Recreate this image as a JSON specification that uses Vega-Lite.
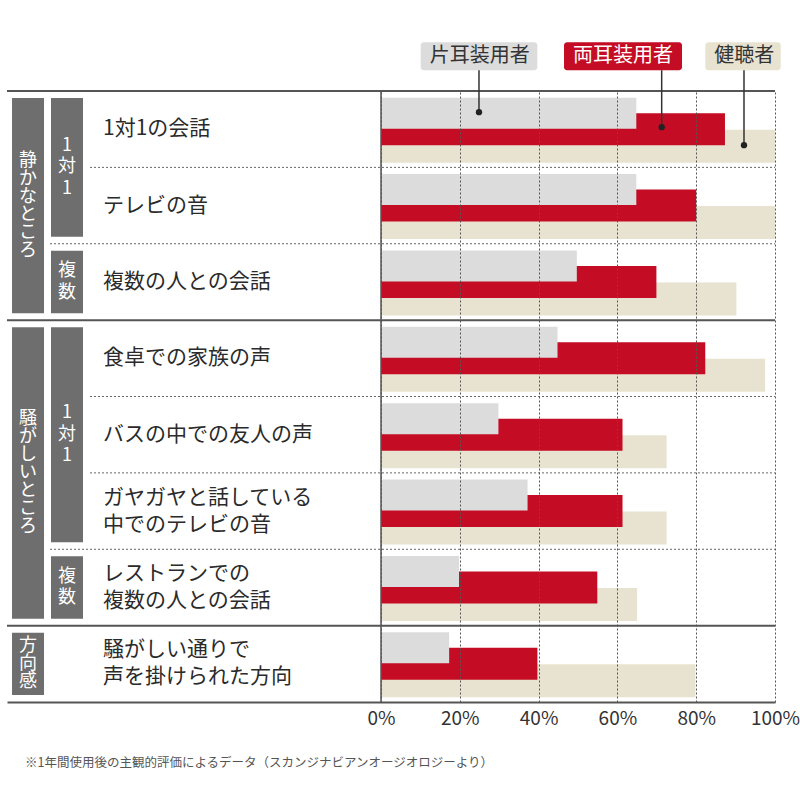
{
  "$schema": "https://vega.github.io/schema/vega-lite/v6.json",
  "width": 768,
  "height": 611,
  "autosize": "none",
  "padding": {"left": 7, "top": 91, "right": 25, "bottom": 98},
  "background": "#ffffff",
  "config": {
    "view": {"stroke": null},
    "font": "Noto Sans CJK JP"
  },
  "title": {
    "text": "※1年間使用後の主観的評価によるデータ（スカンジナビアンオージオロジーより）",
    "orient": "bottom",
    "anchor": "start",
    "frame": "group",
    "dx": 18,
    "offset": 29,
    "fontSize": 12.5,
    "fontWeight": "normal",
    "color": "#555555"
  },
  "datasets": {
    "rows": [
      {"item": "1対1の会話", "group": "静かなところ", "sub": "1対1", "top": "group"},
      {"item": "テレビの音", "group": "静かなところ", "sub": "1対1", "top": "row"},
      {"item": "複数の人との会話", "group": "静かなところ", "sub": "複数", "top": "sub"},
      {"item": "食卓での家族の声", "group": "騒がしいところ", "sub": "1対1", "top": "group"},
      {"item": "バスの中での友人の声", "group": "騒がしいところ", "sub": "1対1", "top": "row"},
      {"item": "ガヤガヤと話している\n中でのテレビの音", "group": "騒がしいところ", "sub": "1対1", "top": "row"},
      {"item": "レストランでの\n複数の人との会話", "group": "騒がしいところ", "sub": "複数", "top": "sub"},
      {"item": "騒がしい通りで\n声を掛けられた方向", "group": "方向感", "sub": null, "top": "group"}
    ],
    "scores": [
      {"item": "1対1の会話", "series": "片耳装用者", "value": 0.648},
      {"item": "1対1の会話", "series": "両耳装用者", "value": 0.873},
      {"item": "1対1の会話", "series": "健聴者", "value": 1.0},
      {"item": "テレビの音", "series": "片耳装用者", "value": 0.648},
      {"item": "テレビの音", "series": "両耳装用者", "value": 0.8},
      {"item": "テレビの音", "series": "健聴者", "value": 1.0},
      {"item": "複数の人との会話", "series": "片耳装用者", "value": 0.497},
      {"item": "複数の人との会話", "series": "両耳装用者", "value": 0.699},
      {"item": "複数の人との会話", "series": "健聴者", "value": 0.902},
      {"item": "食卓での家族の声", "series": "片耳装用者", "value": 0.448},
      {"item": "食卓での家族の声", "series": "両耳装用者", "value": 0.823},
      {"item": "食卓での家族の声", "series": "健聴者", "value": 0.975},
      {"item": "バスの中での友人の声", "series": "片耳装用者", "value": 0.298},
      {"item": "バスの中での友人の声", "series": "両耳装用者", "value": 0.613},
      {"item": "バスの中での友人の声", "series": "健聴者", "value": 0.725},
      {"item": "ガヤガヤと話している\n中でのテレビの音", "series": "片耳装用者", "value": 0.372},
      {"item": "ガヤガヤと話している\n中でのテレビの音", "series": "両耳装用者", "value": 0.613},
      {"item": "ガヤガヤと話している\n中でのテレビの音", "series": "健聴者", "value": 0.725},
      {"item": "レストランでの\n複数の人との会話", "series": "片耳装用者", "value": 0.198},
      {"item": "レストランでの\n複数の人との会話", "series": "両耳装用者", "value": 0.549},
      {"item": "レストランでの\n複数の人との会話", "series": "健聴者", "value": 0.65},
      {"item": "騒がしい通りで\n声を掛けられた方向", "series": "片耳装用者", "value": 0.173},
      {"item": "騒がしい通りで\n声を掛けられた方向", "series": "両耳装用者", "value": 0.397},
      {"item": "騒がしい通りで\n声を掛けられた方向", "series": "健聴者", "value": 0.798}
    ],
    "blocks": [
      {"label": "静かなところ", "level": "group", "from": "1対1の会話", "to": "複数の人との会話"},
      {"label": "騒がしいところ", "level": "group", "from": "食卓での家族の声", "to": "レストランでの\n複数の人との会話"},
      {"label": "方向感", "level": "group", "from": "騒がしい通りで\n声を掛けられた方向", "to": "騒がしい通りで\n声を掛けられた方向"},
      {"label": "1対1", "level": "sub", "from": "1対1の会話", "to": "テレビの音"},
      {"label": "複数", "level": "sub", "from": "複数の人との会話", "to": "複数の人との会話"},
      {"label": "1対1", "level": "sub", "from": "食卓での家族の声", "to": "ガヤガヤと話している\n中でのテレビの音"},
      {"label": "複数", "level": "sub", "from": "レストランでの\n複数の人との会話", "to": "レストランでの\n複数の人との会話"}
    ],
    "callouts": [
      {"series": "片耳装用者", "box": 0.1008, "box_end": 0.3967, "pin": 0.2487},
      {"series": "両耳装用者", "box": 0.4645, "box_end": 0.764, "pin": 0.7124},
      {"series": "健聴者", "box": 0.8231, "box_end": 1.0145, "pin": 0.9213}
    ]
  },
  "resolve": {"scale": {"y": "independent"}},
  "layer": [
    {
      "layer": [
        {
          "data": {"name": "rows"},
          "transform": [{"filter": "datum.top === 'group'"}],
          "mark": {"type": "rule", "color": "#555555", "strokeWidth": 2},
          "encoding": {
            "y": {
              "field": "item",
              "type": "nominal",
              "bandPosition": 0,
              "scale": {
                "domain": [
                  "1対1の会話",
                  "テレビの音",
                  "複数の人との会話",
                  "食卓での家族の声",
                  "バスの中での友人の声",
                  "ガヤガヤと話している\n中でのテレビの音",
                  "レストランでの\n複数の人との会話",
                  "騒がしい通りで\n声を掛けられた方向"
                ],
                "paddingInner": 0,
                "paddingOuter": 0
              },
              "axis": null
            }
          }
        },
        {
          "data": {"name": "rows"},
          "transform": [{"filter": "datum.top === 'row'"}],
          "mark": {"type": "rule", "color": "#666666", "strokeWidth": 1, "strokeDash": [2, 2]},
          "encoding": {
            "y": {"field": "item", "type": "nominal", "bandPosition": 0},
            "x": {"datum": -0.7386},
            "x2": {"datum": 1}
          }
        },
        {
          "data": {"name": "rows"},
          "transform": [{"filter": "datum.top === 'sub'"}],
          "mark": {"type": "rule", "color": "#666666", "strokeWidth": 1, "strokeDash": [2, 2]},
          "encoding": {
            "y": {"field": "item", "type": "nominal", "bandPosition": 0},
            "x": {"datum": -0.8401},
            "x2": {"datum": 1}
          }
        },
        {
          "data": {"name": "blocks"},
          "transform": [{"filter": "datum.level === 'group'"}],
          "mark": {"type": "rect", "color": "#6e6e6e", "yOffset": 7, "y2Offset": -7},
          "encoding": {
            "y": {"field": "from", "type": "nominal", "bandPosition": 0},
            "y2": {"field": "to", "bandPosition": 1},
            "x": {"datum": -0.9365},
            "x2": {"datum": -0.8553}
          }
        },
        {
          "data": {"name": "blocks"},
          "transform": [{"filter": "datum.level === 'sub'"}],
          "mark": {"type": "rect", "color": "#6e6e6e", "yOffset": 7, "y2Offset": -7},
          "encoding": {
            "y": {"field": "from", "type": "nominal", "bandPosition": 0},
            "y2": {"field": "to", "bandPosition": 1},
            "x": {"datum": -0.8376},
            "x2": {"datum": -0.7563}
          }
        },
        {
          "data": {"name": "rows"},
          "mark": {
            "type": "text",
            "align": "left",
            "baseline": "middle",
            "fontSize": 21,
            "lineHeight": 27,
            "lineBreak": "\n",
            "color": "#2a2a2a",
            "dy": {"expr": "-(length(split(datum.item, '\\n')) - 1) * 13.5"}
          },
          "encoding": {
            "y": {"field": "item", "type": "nominal"},
            "x": {"datum": -0.7056},
            "text": {"field": "item"}
          }
        },
        {
          "data": {"name": "scores"},
          "transform": [{"filter": "datum.series === '健聴者'"}],
          "mark": {"type": "bar", "height": 33, "yOffset": 17},
          "encoding": {
            "y": {"field": "item", "type": "nominal"},
            "x": {
              "field": "value",
              "type": "quantitative",
              "scale": {"domain": [-0.94924, 1], "nice": false, "zero": false},
              "axis": {
                "title": null,
                "values": [0, 0.2, 0.4, 0.6, 0.8, 1],
                "format": ".0%",
                "labelFontSize": 19,
                "labelColor": "#333333",
                "labelPadding": 7,
                "labelFlush": false,
                "ticks": false,
                "domainColor": "#555555",
                "domainWidth": 2,
                "grid": true,
                "gridColor": "#555555",
                "gridWidth": 1,
                "gridDash": [2, 2],
                "zindex": 1
              }
            },
            "color": {
              "field": "series",
              "type": "nominal",
              "scale": {
                "domain": ["片耳装用者", "両耳装用者", "健聴者"],
                "range": ["#dcdcdc", "#c40d24", "#e8e3d0"]
              },
              "legend": null
            }
          }
        },
        {
          "data": {"name": "scores"},
          "transform": [{"filter": "datum.series === '両耳装用者'"}],
          "mark": {"type": "bar", "height": 32, "yOffset": 0},
          "encoding": {
            "y": {"field": "item", "type": "nominal"},
            "x": {"field": "value", "type": "quantitative"},
            "color": {"field": "series", "type": "nominal"}
          }
        },
        {
          "data": {"name": "scores"},
          "transform": [{"filter": "datum.series === '片耳装用者'"}],
          "mark": {"type": "bar", "height": 31, "yOffset": -16},
          "encoding": {
            "y": {"field": "item", "type": "nominal"},
            "x": {"field": "value", "type": "quantitative"},
            "color": {"field": "series", "type": "nominal"}
          }
        },
        {
          "data": {"values": [{}]},
          "mark": {"type": "rule", "color": "#555555", "strokeWidth": 1.5},
          "encoding": {"x": {"datum": 0}}
        },
        {
          "data": {"name": "callouts"},
          "mark": {"type": "bar", "height": 28, "yOffset": -73, "cornerRadius": 3},
          "encoding": {
            "y": {"datum": "1対1の会話", "type": "nominal"},
            "x": {"field": "box", "type": "quantitative"},
            "x2": {"field": "box_end"},
            "color": {"field": "series", "type": "nominal"}
          }
        },
        {
          "data": {"name": "callouts"},
          "mark": {"type": "text", "align": "left", "baseline": "middle", "dx": 9, "yOffset": -73, "fontSize": 20},
          "encoding": {
            "y": {"datum": "1対1の会話", "type": "nominal"},
            "x": {"field": "box", "type": "quantitative"},
            "text": {"field": "series"},
            "color": {
              "condition": {"test": "datum.series === '両耳装用者'", "value": "#ffffff"},
              "value": "#333333"
            }
          }
        },
        {
          "data": {"name": "callouts"},
          "transform": [{"filter": "datum.series === '片耳装用者'"}],
          "layer": [
            {
              "mark": {"type": "rule", "color": "#333333", "strokeWidth": 1.5, "yOffset": -59, "y2Offset": -17},
              "encoding": {
                "y": {"datum": "1対1の会話", "type": "nominal"},
                "y2": {"datum": "1対1の会話"},
                "x": {"field": "pin", "type": "quantitative"}
              }
            },
            {
              "mark": {"type": "point", "filled": true, "color": "#222222", "opacity": 1, "size": 40, "yOffset": -17},
              "encoding": {
                "y": {"datum": "1対1の会話", "type": "nominal"},
                "x": {"field": "pin", "type": "quantitative"}
              }
            }
          ]
        },
        {
          "data": {"name": "callouts"},
          "transform": [{"filter": "datum.series === '両耳装用者'"}],
          "layer": [
            {
              "mark": {"type": "rule", "color": "#333333", "strokeWidth": 1.5, "yOffset": -59, "y2Offset": -2},
              "encoding": {
                "y": {"datum": "1対1の会話", "type": "nominal"},
                "y2": {"datum": "1対1の会話"},
                "x": {"field": "pin", "type": "quantitative"}
              }
            },
            {
              "mark": {"type": "point", "filled": true, "color": "#222222", "opacity": 1, "size": 40, "yOffset": -2},
              "encoding": {
                "y": {"datum": "1対1の会話", "type": "nominal"},
                "x": {"field": "pin", "type": "quantitative"}
              }
            }
          ]
        },
        {
          "data": {"name": "callouts"},
          "transform": [{"filter": "datum.series === '健聴者'"}],
          "layer": [
            {
              "mark": {"type": "rule", "color": "#333333", "strokeWidth": 1.5, "yOffset": -59, "y2Offset": 16},
              "encoding": {
                "y": {"datum": "1対1の会話", "type": "nominal"},
                "y2": {"datum": "1対1の会話"},
                "x": {"field": "pin", "type": "quantitative"}
              }
            },
            {
              "mark": {"type": "point", "filled": true, "color": "#222222", "opacity": 1, "size": 40, "yOffset": 16},
              "encoding": {
                "y": {"datum": "1対1の会話", "type": "nominal"},
                "x": {"field": "pin", "type": "quantitative"}
              }
            }
          ]
        }
      ]
    },
    {
      "data": {"name": "rows"},
      "transform": [{"window": [{"op": "row_number", "as": "n"}]}],
      "layer": [
        {
          "transform": [
            {"aggregate": [{"op": "mean", "field": "n", "as": "mid"}], "groupby": ["group"]},
            {"calculate": "split(datum.group, '')", "as": "chars"}
          ],
          "mark": {
            "type": "text",
            "color": "#ffffff",
            "fontSize": 18,
            "lineHeight": 18,
            "baseline": "middle",
            "align": "center",
            "dy": {"expr": "-(length(datum.chars) - 1) * 9"}
          },
          "encoding": {
            "y": {
              "field": "mid",
              "type": "quantitative",
              "scale": {"domain": [0.5, 8.5], "reverse": true, "nice": false, "zero": false},
              "axis": null
            },
            "x": {"datum": -0.8959},
            "text": {"field": "chars"}
          }
        },
        {
          "transform": [
            {"filter": "datum.sub != null"},
            {"aggregate": [{"op": "mean", "field": "n", "as": "mid"}], "groupby": ["group", "sub"]},
            {"calculate": "split(datum.sub, '')", "as": "chars"}
          ],
          "mark": {
            "type": "text",
            "color": "#ffffff",
            "fontSize": 18,
            "lineHeight": 21.5,
            "baseline": "middle",
            "align": "center",
            "dy": {"expr": "-(length(datum.chars) - 1) * 10.75"}
          },
          "encoding": {
            "y": {"field": "mid", "type": "quantitative"},
            "x": {"datum": -0.797},
            "text": {"field": "chars"}
          }
        }
      ]
    }
  ]
}
